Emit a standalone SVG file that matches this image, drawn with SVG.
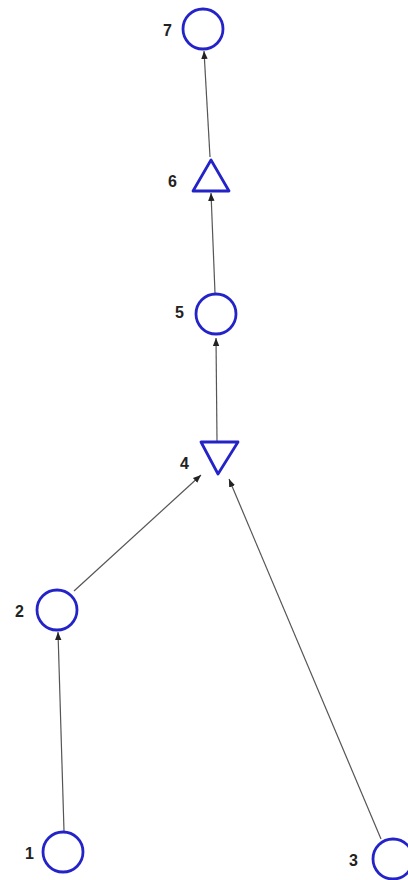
<svg xmlns="http://www.w3.org/2000/svg" width="408" height="880" viewBox="0 0 408 880">
<defs>
<style>
.node{fill:none;stroke:#2323c8;stroke-width:2.8;stroke-linejoin:round}
.lbl{font-family:"Liberation Sans",Arial,sans-serif;font-weight:bold;font-size:16px;fill:#222;text-anchor:end;dominant-baseline:central}
.edge{stroke:#555;stroke-width:1.2;fill:none;marker-end:url(#arr)}
</style>
<marker id="arr" viewBox="0 0 10 10" refX="10" refY="5" markerWidth="8" markerHeight="8" markerUnits="userSpaceOnUse" orient="auto">
<path d="M0,1 L10,5 L0,9 Z" fill="#222"/>
</marker>
</defs>
<rect width="408" height="880" fill="#fff"/>
<g id="edges">
<line class="edge" x1="64" y1="831" x2="58" y2="632"/>
<line class="edge" x1="74" y1="591" x2="201" y2="475"/>
<line class="edge" x1="381" y1="839" x2="229" y2="479"/>
<line class="edge" x1="217" y1="441" x2="216" y2="338"/>
<line class="edge" x1="215" y1="293" x2="211" y2="193"/>
<line class="edge" x1="210" y1="157" x2="204" y2="51"/>
</g>
<g id="n7"><circle class="node" cx="203" cy="29" r="20"/><text class="lbl" x="172" y="30">7</text></g>
<g id="n6"><polygon class="node" points="211,160 193,191 229,191"/><text class="lbl" x="177" y="181">6</text></g>
<g id="n5"><circle class="node" cx="216" cy="314" r="20"/><text class="lbl" x="184" y="312">5</text></g>
<g id="n4"><polygon class="node" points="201,442 238,442 218,474"/><text class="lbl" x="189" y="463">4</text></g>
<g id="n2"><circle class="node" cx="57" cy="610" r="20"/><text class="lbl" x="24" y="611">2</text></g>
<g id="n1"><circle class="node" cx="63" cy="852" r="20"/><text class="lbl" x="34" y="853">1</text></g>
<g id="n3"><circle class="node" cx="393" cy="859" r="20"/><text class="lbl" x="358" y="860">3</text></g>
</svg>
